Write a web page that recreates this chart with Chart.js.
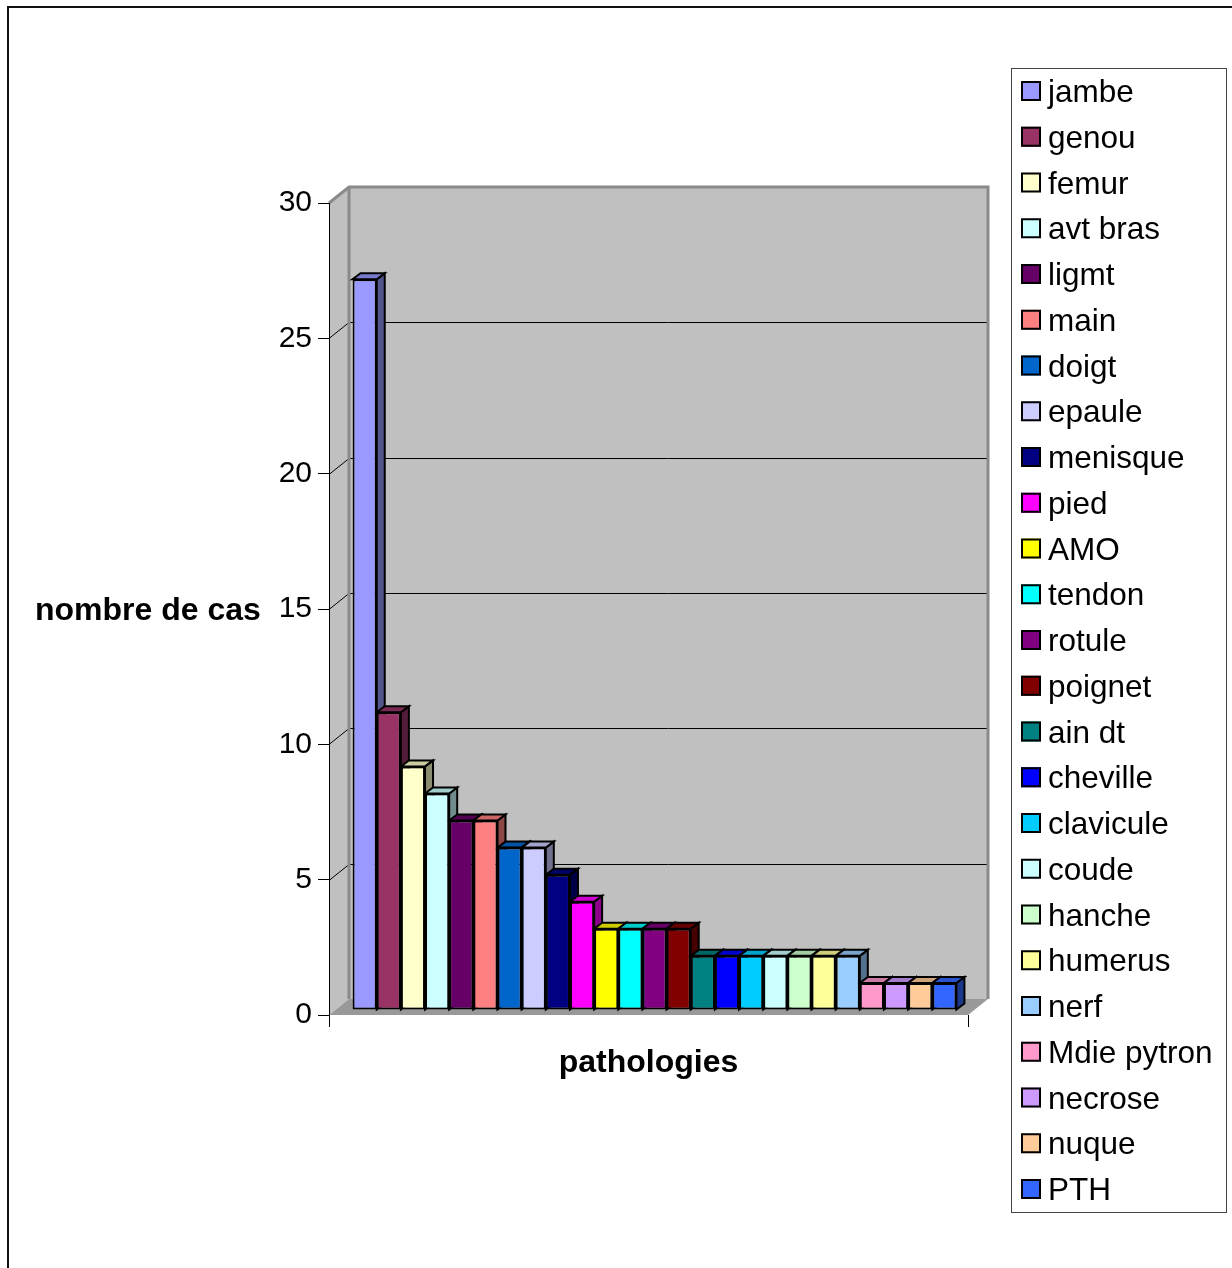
<!DOCTYPE html>
<html>
<head>
<meta charset="utf-8">
<script src="https://cdn.jsdelivr.net/npm/chart.js@4/dist/chart.umd.min.js"></script>
<style>
  html, body { margin: 0; padding: 0; background: #fff; }
  canvas { display: block; }
</style>
</head>
<body>
<canvas id="c" width="1232" height="1268"></canvas>
<script>
// Cases per pathology
const pathologies = ['jambe', 'genou', 'femur', 'avt bras', 'ligmt', 'main', 'doigt', 'epaule',
  'menisque', 'pied', 'AMO', 'tendon', 'rotule', 'poignet', 'ain dt', 'cheville', 'clavicule',
  'coude', 'hanche', 'humerus', 'nerf', 'Mdie pytron', 'necrose', 'nuque', 'PTH'];
const cases = [27, 11, 9, 8, 7, 7, 6, 6, 5, 4, 3, 3, 3, 3, 2, 2, 2, 2, 2, 2, 2, 1, 1, 1, 1];
const barColors = ['#9999ff', '#993366', '#ffffcc', '#ccffff', '#660066', '#ff8080', '#0066cc', '#ccccff',
  '#000080', '#ff00ff', '#ffff00', '#00ffff', '#800080', '#800000', '#008080', '#0000ff', '#00ccff',
  '#ccffff', '#ccffcc', '#ffff99', '#99ccff', '#ff99cc', '#cc99ff', '#ffcc99', '#3366ff'];
const yTicks = [0, 5, 10, 15, 20, 25, 30];
const yTitle = 'nombre de cas';
const xTitle = 'pathologies';

const FONT = '"Liberation Sans", Arial, Helvetica, sans-serif';
const WALL = { dx: 20, dy: -16 };       // depth of the box behind the axis plane
const BAR_SHIFT = { dx: 6, dy: -5 };    // bars stand a little behind the front plane
const BAR_DEPTH = { dx: 8, dy: -6 };    // thickness of each bar

function shade(hex, f) {
  const n = parseInt(hex.slice(1), 16);
  const r = Math.round(((n >> 16) & 255) * f);
  const g = Math.round(((n >> 8) & 255) * f);
  const b = Math.round((n & 255) * f);
  return `rgb(${r},${g},${b})`;
}

function poly(ctx, pts) {
  ctx.beginPath();
  ctx.moveTo(pts[0][0], pts[0][1]);
  for (let i = 1; i < pts.length; i++) ctx.lineTo(pts[i][0], pts[i][1]);
  ctx.closePath();
}

const scene3d = {
  id: 'scene3d',
  beforeDraw(chart) {
    const { ctx, chartArea: a, scales: { y } } = chart;
    const L = a.left, R = a.right;
    const yTop = y.getPixelForValue(yTicks[yTicks.length - 1]);
    const yBot = y.getPixelForValue(yTicks[0]);
    ctx.save();
    ctx.fillStyle = '#ffffff';
    ctx.fillRect(0, 0, chart.width, chart.height);

    // back wall
    ctx.fillStyle = '#c0c0c0';
    ctx.fillRect(L + WALL.dx, yTop + WALL.dy, R - L, yBot - yTop);
    // side wall
    poly(ctx, [[L, yTop], [L + WALL.dx, yTop + WALL.dy], [L + WALL.dx, yBot + WALL.dy], [L, yBot]]);
    ctx.fill();

    // grid lines on the walls
    ctx.strokeStyle = '#000';
    ctx.lineWidth = 1;
    yTicks.slice(1, -1).forEach(v => {
      const py = Math.round(y.getPixelForValue(v)) + 0.5;
      ctx.beginPath();
      ctx.moveTo(L, py);
      ctx.lineTo(L + WALL.dx, py + WALL.dy);
      ctx.lineTo(R + WALL.dx, py + WALL.dy);
      ctx.stroke();
    });

    // wall edges
    ctx.strokeStyle = '#8a8a8a';
    ctx.lineWidth = 3;
    ctx.beginPath();
    ctx.moveTo(L, yTop);
    ctx.lineTo(L + WALL.dx, yTop + WALL.dy);
    ctx.lineTo(R + WALL.dx, yTop + WALL.dy);
    ctx.lineTo(R + WALL.dx, yBot + WALL.dy);
    ctx.moveTo(L + WALL.dx, yTop + WALL.dy);
    ctx.lineTo(L + WALL.dx, yBot + WALL.dy);
    ctx.stroke();

    // floor
    ctx.fillStyle = '#999999';
    poly(ctx, [[L, yBot], [R, yBot], [R + WALL.dx, yBot + WALL.dy], [L + WALL.dx, yBot + WALL.dy]]);
    ctx.fill();
    ctx.restore();
  },
  beforeDatasetsDraw(chart) {
    const ctx = chart.ctx;
    ctx.save();
    ctx.translate(BAR_SHIFT.dx, BAR_SHIFT.dy);
    // tops and right sides, left to right, so nearer faces cover farther ones
    chart.data.datasets.forEach((ds, i) => {
      const el = chart.getDatasetMeta(i).data[0];
      if (!el) return;
      const { x, y, base, width } = el.getProps(['x', 'y', 'base', 'width'], true);
      const l = x - width / 2, r = x + width / 2;
      const { dx, dy } = BAR_DEPTH;
      ctx.lineWidth = 2;
      ctx.strokeStyle = '#000';
      ctx.lineJoin = 'miter';
      ctx.fillStyle = shade(ds.backgroundColor, 0.55);
      poly(ctx, [[r, y], [r + dx, y + dy], [r + dx, base + dy], [r, base]]);
      ctx.fill(); ctx.stroke();
      ctx.fillStyle = shade(ds.backgroundColor, 0.8);
      poly(ctx, [[l, y], [r, y], [r + dx, y + dy], [l + dx, y + dy]]);
      ctx.fill(); ctx.stroke();
    });
  },
  afterDatasetsDraw(chart) {
    chart.ctx.restore();
  },
  afterDraw(chart) {
    const { ctx, chartArea: a } = chart;
    ctx.save();
    // axis titles
    ctx.fillStyle = '#000';
    ctx.font = `bold 32px ${FONT}`;
    ctx.textBaseline = 'alphabetic';
    ctx.textAlign = 'left';
    ctx.fillText(yTitle, 35, 620);
    ctx.textAlign = 'center';
    ctx.fillText(xTitle, (a.left + a.right) / 2, 1072);

    // legend
    const lx = 1011, ly = 68, lw = 215, lh = 1144;
    ctx.strokeStyle = '#444';
    ctx.lineWidth = 1;
    ctx.strokeRect(lx + 0.5, ly + 0.5, lw, lh);
    ctx.font = `31.5px ${FONT}`;
    ctx.textAlign = 'left';
    const step = 45.75;
    chart.data.datasets.forEach((ds, i) => {
      const top = 81 + i * step;
      ctx.fillStyle = ds.backgroundColor;
      ctx.fillRect(1021, top, 20, 20);
      ctx.strokeStyle = '#000';
      ctx.lineWidth = 2;
      ctx.strokeRect(1022, top + 1, 18, 18);
      ctx.fillStyle = '#000';
      ctx.fillText(ds.label, 1048, top + 21);
    });

    // outer frame
    ctx.strokeStyle = '#111';
    ctx.lineWidth = 2;
    ctx.beginPath();
    ctx.moveTo(8, chart.height);
    ctx.lineTo(8, 7);
    ctx.lineTo(chart.width, 7);
    ctx.stroke();
    ctx.restore();
  }
};

Chart.defaults.font.family = FONT;
Chart.defaults.color = '#000';

new Chart(document.getElementById('c'), {
  type: 'bar',
  data: {
    labels: [''],
    datasets: pathologies.map((name, i) => ({
      label: name,
      data: [cases[i]],
      backgroundColor: barColors[i],
      borderColor: '#000',
      borderWidth: 2,
      borderSkipped: false,
      barPercentage: 1,
      categoryPercentage: 0.945
    }))
  },
  options: {
    responsive: false,
    animation: false,
    events: [],
    layout: { padding: { top: 203, right: 264, left: 0, bottom: 0 } },
    plugins: { legend: { display: false }, tooltip: { enabled: false } },
    scales: {
      y: {
        min: yTicks[0],
        max: yTicks[yTicks.length - 1],
        ticks: { stepSize: yTicks[1] - yTicks[0], font: { size: 30 }, padding: 6, color: '#000' },
        grid: { drawOnChartArea: false, drawTicks: true, tickLength: 11, color: '#000', lineWidth: 1 },
        border: { display: true, color: '#000', width: 1 },
        afterFit(s) { s.width = 329; }
      },
      x: {
        ticks: { display: true, font: { size: 1 } },
        grid: { drawOnChartArea: false, drawTicks: true, tickLength: 12, color: '#000', lineWidth: 1, offset: true },
        border: { display: false },
        afterFit(s) { s.height = 253; }
      }
    }
  },
  plugins: [scene3d]
});
</script>
</body>
</html>
